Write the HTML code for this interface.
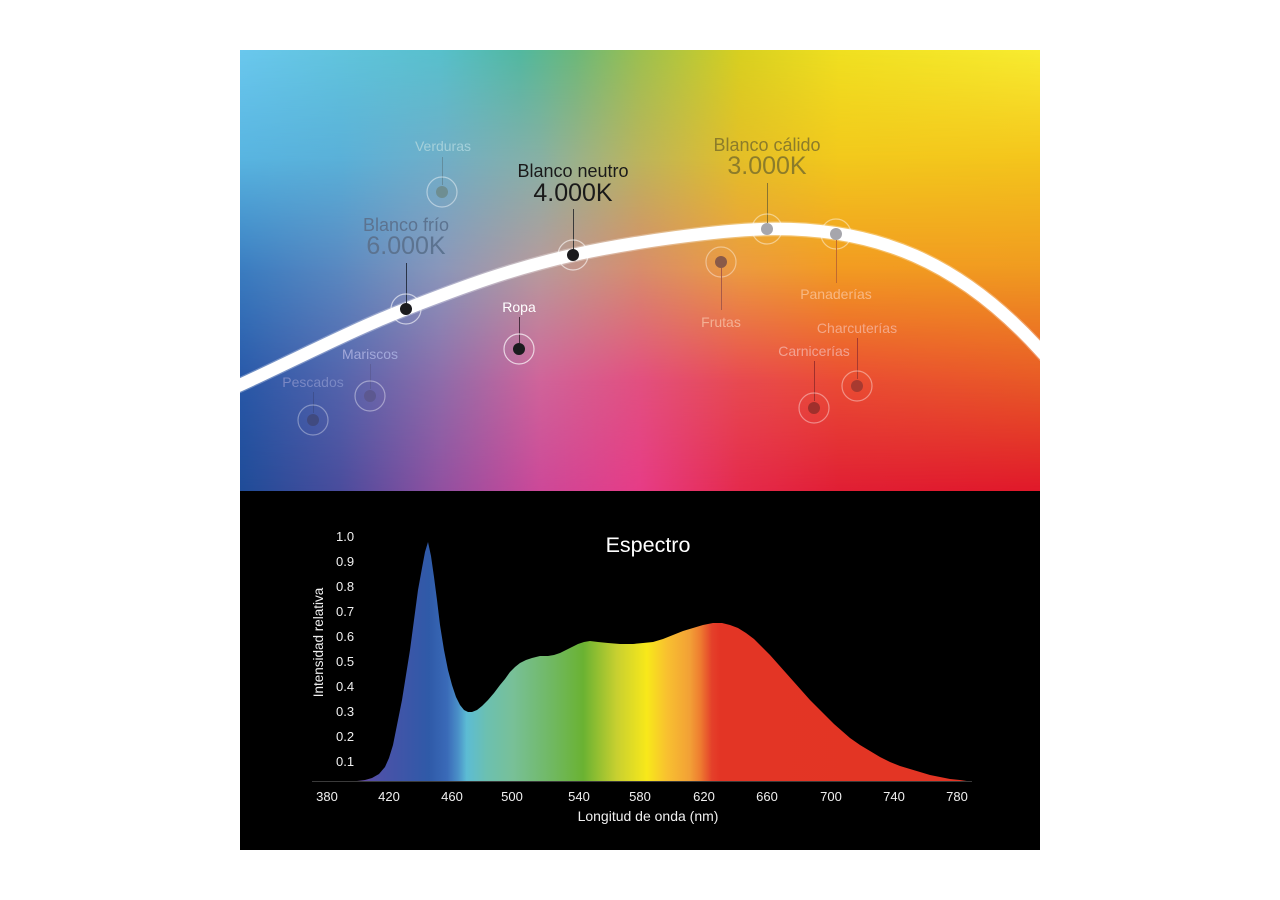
<!DOCTYPE html>
<html>
<head>
<meta charset="utf-8">
<style>
html,body{margin:0;padding:0;background:#fff;}
svg{display:block;}
text{font-family:"Liberation Sans",sans-serif;}
</style>
</head>
<body>
<svg width="1280" height="900" viewBox="0 0 1280 900" xmlns="http://www.w3.org/2000/svg">
<defs>
  <clipPath id="topclip"><rect x="240" y="50" width="800" height="441"/></clipPath>
  <linearGradient id="r0" gradientUnits="userSpaceOnUse" x1="240" y1="0" x2="1040" y2="0">
    <stop offset="0" stop-color="#6ac8ee"/>
    <stop offset="0.25" stop-color="#58c0cc"/>
    <stop offset="0.35" stop-color="#52b8a0"/>
    <stop offset="0.42" stop-color="#6cb87a"/>
    <stop offset="0.5" stop-color="#9cc050"/>
    <stop offset="0.625" stop-color="#d8d020"/>
    <stop offset="0.75" stop-color="#f0e020"/>
    <stop offset="1" stop-color="#f8ec30"/>
  </linearGradient>
  <linearGradient id="r1" gradientUnits="userSpaceOnUse" x1="240" y1="0" x2="1040" y2="0">
    <stop offset="0" stop-color="#58b4e0"/>
    <stop offset="0.125" stop-color="#5ab0d8"/>
    <stop offset="0.25" stop-color="#70aec8"/>
    <stop offset="0.375" stop-color="#88b0a4"/>
    <stop offset="0.5" stop-color="#bcb45c"/>
    <stop offset="0.625" stop-color="#e4be28"/>
    <stop offset="0.75" stop-color="#f2c81c"/>
    <stop offset="1" stop-color="#f4c41c"/>
  </linearGradient>
  <linearGradient id="r2" gradientUnits="userSpaceOnUse" x1="240" y1="0" x2="1040" y2="0">
    <stop offset="0" stop-color="#3a7cc0"/>
    <stop offset="0.125" stop-color="#5a88c0"/>
    <stop offset="0.25" stop-color="#8a96ba"/>
    <stop offset="0.375" stop-color="#b89a9c"/>
    <stop offset="0.5" stop-color="#d88c6c"/>
    <stop offset="0.625" stop-color="#ec9a40"/>
    <stop offset="0.75" stop-color="#f29a22"/>
    <stop offset="1" stop-color="#f09a20"/>
  </linearGradient>
  <linearGradient id="r3" gradientUnits="userSpaceOnUse" x1="240" y1="0" x2="1040" y2="0">
    <stop offset="0" stop-color="#2858a8"/>
    <stop offset="0.125" stop-color="#5464ac"/>
    <stop offset="0.25" stop-color="#8e6caa"/>
    <stop offset="0.375" stop-color="#d0649a"/>
    <stop offset="0.5" stop-color="#e25080"/>
    <stop offset="0.625" stop-color="#e84a50"/>
    <stop offset="0.75" stop-color="#ea4c34"/>
    <stop offset="1" stop-color="#e85a26"/>
  </linearGradient>
  <linearGradient id="r4" gradientUnits="userSpaceOnUse" x1="240" y1="0" x2="1040" y2="0">
    <stop offset="0" stop-color="#1f4c98"/>
    <stop offset="0.125" stop-color="#4a4c9c"/>
    <stop offset="0.25" stop-color="#9050a0"/>
    <stop offset="0.375" stop-color="#cc4898"/>
    <stop offset="0.5" stop-color="#e63c86"/>
    <stop offset="0.625" stop-color="#e42a4c"/>
    <stop offset="0.75" stop-color="#e01e34"/>
    <stop offset="1" stop-color="#e0182a"/>
  </linearGradient>
  <linearGradient id="m1" gradientUnits="userSpaceOnUse" x1="0" y1="50" x2="0" y2="160">
    <stop offset="0" stop-color="#000"/><stop offset="1" stop-color="#fff"/>
  </linearGradient>
  <linearGradient id="m2" gradientUnits="userSpaceOnUse" x1="0" y1="160" x2="0" y2="270">
    <stop offset="0" stop-color="#000"/><stop offset="1" stop-color="#fff"/>
  </linearGradient>
  <linearGradient id="m3" gradientUnits="userSpaceOnUse" x1="0" y1="270" x2="0" y2="380">
    <stop offset="0" stop-color="#000"/><stop offset="1" stop-color="#fff"/>
  </linearGradient>
  <linearGradient id="m4" gradientUnits="userSpaceOnUse" x1="0" y1="380" x2="0" y2="491">
    <stop offset="0" stop-color="#000"/><stop offset="1" stop-color="#fff"/>
  </linearGradient>
  <mask id="k1" maskUnits="userSpaceOnUse" x="240" y="50" width="800" height="441"><rect x="240" y="50" width="800" height="441" fill="url(#m1)"/></mask>
  <mask id="k2" maskUnits="userSpaceOnUse" x="240" y="50" width="800" height="441"><rect x="240" y="50" width="800" height="441" fill="url(#m2)"/></mask>
  <mask id="k3" maskUnits="userSpaceOnUse" x="240" y="50" width="800" height="441"><rect x="240" y="50" width="800" height="441" fill="url(#m3)"/></mask>
  <mask id="k4" maskUnits="userSpaceOnUse" x="240" y="50" width="800" height="441"><rect x="240" y="50" width="800" height="441" fill="url(#m4)"/></mask>
  <linearGradient id="spec" gradientUnits="userSpaceOnUse" x1="357" y1="0" x2="970" y2="0">
    <stop offset="0" stop-color="#6a4aa0"/>
    <stop offset="0.04" stop-color="#4a52a8"/>
    <stop offset="0.1" stop-color="#3558a8"/>
    <stop offset="0.117" stop-color="#2f5aa8"/>
    <stop offset="0.147" stop-color="#3a6ab8"/>
    <stop offset="0.165" stop-color="#4a90c8"/>
    <stop offset="0.179" stop-color="#5cbcd4"/>
    <stop offset="0.212" stop-color="#6cc0b0"/>
    <stop offset="0.254" stop-color="#78c098"/>
    <stop offset="0.32" stop-color="#70b860"/>
    <stop offset="0.369" stop-color="#6ab232"/>
    <stop offset="0.424" stop-color="#c8d030"/>
    <stop offset="0.473" stop-color="#f8e81a"/>
    <stop offset="0.506" stop-color="#f8c030"/>
    <stop offset="0.543" stop-color="#f2a036"/>
    <stop offset="0.56" stop-color="#ee7c30"/>
    <stop offset="0.579" stop-color="#e4402a"/>
    <stop offset="0.592" stop-color="#e33525"/>
    <stop offset="1" stop-color="#e33524"/>
  </linearGradient>
</defs>

<g clip-path="url(#topclip)">
  <rect x="240" y="50" width="800" height="441" fill="url(#r0)"/>
  <rect x="240" y="50" width="800" height="441" fill="url(#r1)" mask="url(#k1)"/>
  <rect x="240" y="50" width="800" height="441" fill="url(#r2)" mask="url(#k2)"/>
  <rect x="240" y="50" width="800" height="441" fill="url(#r3)" mask="url(#k3)"/>
  <rect x="240" y="50" width="800" height="441" fill="url(#r4)" mask="url(#k4)"/>

  <path d="M 200 403 L 240 385 C 295.3 359.7, 350.5 330.7, 406 309 C 461.5 287.3, 512.8 268.3, 573 255 C 633.2 241.7, 722 229.8, 767 229 C 877 227, 960 262, 1040 350 L 1070 383" fill="none" stroke="#ffffff" stroke-opacity="0.3" stroke-width="15"/>
  <path d="M 200 403 L 240 385 C 295.3 359.7, 350.5 330.7, 406 309 C 461.5 287.3, 512.8 268.3, 573 255 C 633.2 241.7, 722 229.8, 767 229 C 877 227, 960 262, 1040 350 L 1070 383" fill="none" stroke="#ffffff" stroke-width="12.5"/>

  <text x="443" y="151" font-size="14" fill="#a4d0da" text-anchor="middle">Verduras</text>
  <line x1="442.5" y1="157" x2="442.5" y2="185" stroke="#5a7a84" stroke-opacity="0.6" stroke-width="1"/>
  <circle cx="442" cy="192" r="15" fill="none" stroke="#ffffff" stroke-opacity="0.45" stroke-width="1.2"/>
  <circle cx="442" cy="192" r="6" fill="#6e8e92"/>

  <text x="406" y="231" font-size="18" fill="#5c7390" text-anchor="middle">Blanco frío</text>
  <text x="406" y="254" font-size="25" fill="#5c7390" text-anchor="middle">6.000K</text>
  <line x1="406.5" y1="263" x2="406.5" y2="304" stroke="#2a3448" stroke-width="1"/>
  <circle cx="406" cy="309" r="15" fill="none" stroke="#ffffff" stroke-opacity="0.6" stroke-width="1.2"/>
  <circle cx="406" cy="309" r="6" fill="#1b1b1e"/>

  <text x="573" y="177" font-size="18" fill="#1a1a1a" text-anchor="middle">Blanco neutro</text>
  <text x="573" y="201" font-size="25" fill="#1a1a1a" text-anchor="middle">4.000K</text>
  <line x1="573.5" y1="209" x2="573.5" y2="250" stroke="#3a3a3a" stroke-width="1"/>
  <circle cx="573" cy="255" r="15" fill="none" stroke="#ffffff" stroke-opacity="0.6" stroke-width="1.2"/>
  <circle cx="573" cy="255" r="6" fill="#1b1b1e"/>

  <text x="519" y="312" font-size="14" fill="#ffffff" text-anchor="middle">Ropa</text>
  <line x1="519.5" y1="317" x2="519.5" y2="343" stroke="#4a3040" stroke-width="1"/>
  <circle cx="519" cy="349" r="15" fill="none" stroke="#ffffff" stroke-opacity="0.7" stroke-width="1.2"/>
  <circle cx="519" cy="349" r="6" fill="#1b1b1e"/>

  <text x="370" y="359" font-size="14" fill="#a2a8da" text-anchor="middle">Mariscos</text>
  <line x1="370.5" y1="364" x2="370.5" y2="389" stroke="#5a5a90" stroke-opacity="0.7" stroke-width="1"/>
  <circle cx="370" cy="396" r="15" fill="none" stroke="#ffffff" stroke-opacity="0.4" stroke-width="1.2"/>
  <circle cx="370" cy="396" r="6" fill="#5c5890"/>

  <text x="313" y="387" font-size="14" fill="#7a88c4" text-anchor="middle">Pescados</text>
  <line x1="313.5" y1="392" x2="313.5" y2="413" stroke="#3c4c88" stroke-opacity="0.8" stroke-width="1"/>
  <circle cx="313" cy="420" r="15" fill="none" stroke="#ffffff" stroke-opacity="0.35" stroke-width="1.2"/>
  <circle cx="313" cy="420" r="6" fill="#404a80"/>

  <text x="767" y="151" font-size="18" fill="#8c7c2a" text-anchor="middle">Blanco cálido</text>
  <text x="767" y="174" font-size="25" fill="#8c7c2a" text-anchor="middle">3.000K</text>
  <line x1="767.5" y1="183" x2="767.5" y2="223" stroke="#8a7430" stroke-width="1"/>
  <circle cx="767" cy="229" r="15" fill="none" stroke="#ffffff" stroke-opacity="0.45" stroke-width="1.2"/>
  <circle cx="767" cy="229" r="6" fill="#a6a6ac"/>

  <circle cx="836" cy="234" r="15" fill="none" stroke="#ffffff" stroke-opacity="0.45" stroke-width="1.2"/>
  <circle cx="836" cy="234" r="6" fill="#a6a6ac"/>
  <line x1="836.5" y1="240" x2="836.5" y2="283" stroke="#c06a30" stroke-width="1"/>
  <text x="836" y="299" font-size="14" fill="#f8b882" text-anchor="middle">Panaderías</text>

  <circle cx="721" cy="262" r="15" fill="none" stroke="#ffffff" stroke-opacity="0.4" stroke-width="1.2"/>
  <circle cx="721" cy="262" r="6" fill="#8a5a48"/>
  <line x1="721.5" y1="268" x2="721.5" y2="310" stroke="#a85a48" stroke-width="1"/>
  <text x="721" y="327" font-size="14" fill="#f4b094" text-anchor="middle">Frutas</text>

  <text x="857" y="333" font-size="14" fill="#f4a888" text-anchor="middle">Charcuterías</text>
  <line x1="857.5" y1="338" x2="857.5" y2="379" stroke="#a83a30" stroke-width="1"/>
  <circle cx="857" cy="386" r="15" fill="none" stroke="#ffffff" stroke-opacity="0.4" stroke-width="1.2"/>
  <circle cx="857" cy="386" r="6" fill="#a83a30"/>

  <text x="814" y="356" font-size="14" fill="#f2a292" text-anchor="middle">Carnicerías</text>
  <line x1="814.5" y1="361" x2="814.5" y2="401" stroke="#a0302c" stroke-width="1"/>
  <circle cx="814" cy="408" r="15" fill="none" stroke="#ffffff" stroke-opacity="0.4" stroke-width="1.2"/>
  <circle cx="814" cy="408" r="6" fill="#a0302c"/>
</g>

<rect x="240" y="491" width="800" height="359" fill="#000"/>

<text x="648" y="552" font-size="21.5" fill="#ffffff" text-anchor="middle">Espectro</text>

<polygon fill="url(#spec)" points="357,781 365,780 372,778 379,774 385,767 389,758 393,745 397,725 402,700 406,675 410,650 414,620 418,590 422,568 425,552 428,542 431,556 434,577 437,600 440,625 444,650 448,670 452,685 456,697 460,705 464,710 468,712 472,712 477,710 482,706 488,700 494,693 500,685 505,679 510,672 515,667 520,663 526,660 532,658 540,656 548,656 554,655 560,653 566,650 572,647 578,644 584,642 590,641 598,642 608,643 620,644 633,644 643,643 653,642 663,639 673,635 683,631 693,628 703,625 713,623 722,623 730,625 738,628 746,633 754,639 762,647 770,655 778,664 786,673 794,682 802,691 810,700 818,708 826,716 834,724 842,731 850,738 860,745 870,751 880,757 890,762 900,766 910,769 920,772 930,775 940,777 950,779 960,780 970,781.5 357,781.5"/>
<line x1="312" y1="781.5" x2="972" y2="781.5" stroke="#3a3a3a" stroke-width="1"/>

<g font-size="13" fill="#f0f0f0">
  <text x="336" y="541">1.0</text>
  <text x="336" y="566">0.9</text>
  <text x="336" y="591">0.8</text>
  <text x="336" y="616">0.7</text>
  <text x="336" y="641">0.6</text>
  <text x="336" y="666">0.5</text>
  <text x="336" y="691">0.4</text>
  <text x="336" y="716">0.3</text>
  <text x="336" y="741">0.2</text>
  <text x="336" y="766">0.1</text>
</g>
<text transform="translate(323,642.5) rotate(-90)" font-size="13.5" fill="#f0f0f0" text-anchor="middle">Intensidad relativa</text>

<g font-size="13" fill="#f0f0f0" text-anchor="middle">
  <text x="327" y="801">380</text>
  <text x="389" y="801">420</text>
  <text x="452" y="801">460</text>
  <text x="512" y="801">500</text>
  <text x="579" y="801">540</text>
  <text x="640" y="801">580</text>
  <text x="704" y="801">620</text>
  <text x="767" y="801">660</text>
  <text x="831" y="801">700</text>
  <text x="894" y="801">740</text>
  <text x="957" y="801">780</text>
</g>
<text x="648" y="821" font-size="14" fill="#f0f0f0" text-anchor="middle">Longitud de onda (nm)</text>
</svg>
</body>
</html>
